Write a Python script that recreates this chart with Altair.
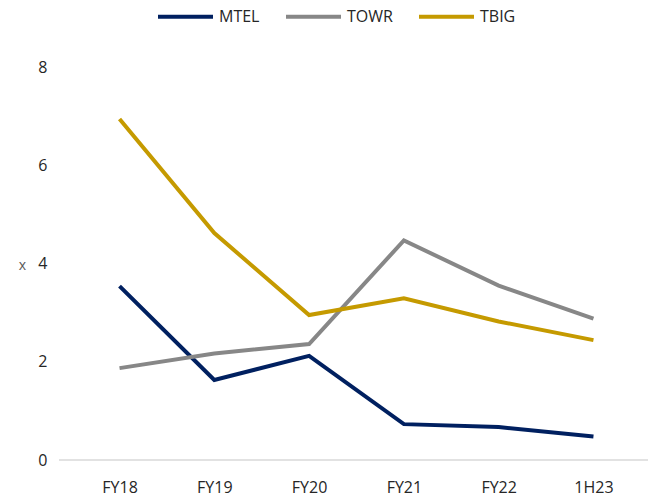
import altair as alt
import pandas as pd

periods = ["FY18", "FY19", "FY20", "FY21", "FY22", "1H23"]
mtel = [3.54, 1.63, 2.12, 0.73, 0.67, 0.48]
towr = [1.87, 2.17, 2.36, 4.47, 3.55, 2.88]
tbig = [6.94, 4.62, 2.95, 3.29, 2.82, 2.44]
series = ["MTEL", "TOWR", "TBIG"]
colors = ["#002060", "#878787", "#C59A00"]

rows = []
for name, vals in zip(series, [mtel, towr, tbig]):
    for p, v in zip(periods, vals):
        rows.append({"period": p, "value": v, "series": name})
df = pd.DataFrame(rows)

FONT = "Open Sans"

base = alt.Chart(df)

axis_line = alt.Chart(pd.DataFrame({"y": [0]})).mark_rule(color="#D9D9D9", strokeWidth=1.5).encode(
    y=alt.Y("y:Q", scale=alt.Scale(domain=[0, 8])),
    x=alt.value(0),
    x2=alt.value(589),
)

lines = base.mark_line(strokeWidth=4).encode(
    x=alt.X(
        "period:N",
        sort=periods,
        scale=alt.Scale(type="point", padding=0.607, align=0.526),
        axis=alt.Axis(
            title=None,
            domain=False,
            ticks=False,
            labelAngle=0,
            labelPadding=19,
            labelFont=FONT,
            labelFontSize=16,
            labelColor="#262626",
            grid=False,
        ),
    ),
    y=alt.Y(
        "value:Q",
        scale=alt.Scale(domain=[0, 8]),
        axis=alt.Axis(
            title="x",
            values=[0, 2, 4, 6, 8],
            domain=False,
            ticks=False,
            grid=False,
            labelPadding=12,
            labelFont=FONT,
            labelFontSize=16,
            labelColor="#262626",
            titleFont=FONT,
            titleFontSize=14,
            titleFontWeight="normal",
            titleColor="#595959",
            titleAngle=0,
            titleX=-37,
            titleY=198,
            titleAlign="center",
            titleBaseline="middle",
        ),
    ),
    color=alt.Color(
        "series:N",
        sort=series,
        scale=alt.Scale(domain=series, range=colors),
        legend=alt.Legend(
            title=None,
            orient="none",
            direction="horizontal",
            legendX=97,
            legendY=-80,
            symbolType="stroke",
            symbolSize=3025,
            symbolStrokeWidth=4,
            labelFont=FONT,
            labelFontSize=16,
            labelColor="#262626",
            labelOffset=4,
            columnPadding=18,
        ),
    ),
)

chart = (
    alt.layer(axis_line, lines)
    .properties(
        width=589,
        height=393,
        padding={"left": 59, "top": 67, "right": 0, "bottom": 42},
        autosize=alt.AutoSizeParams(type="none"),
        background="white",
    )
    .configure_view(stroke=None)
)

chart.save("out.html", embed_options={"renderer": "svg", "actions": False})
